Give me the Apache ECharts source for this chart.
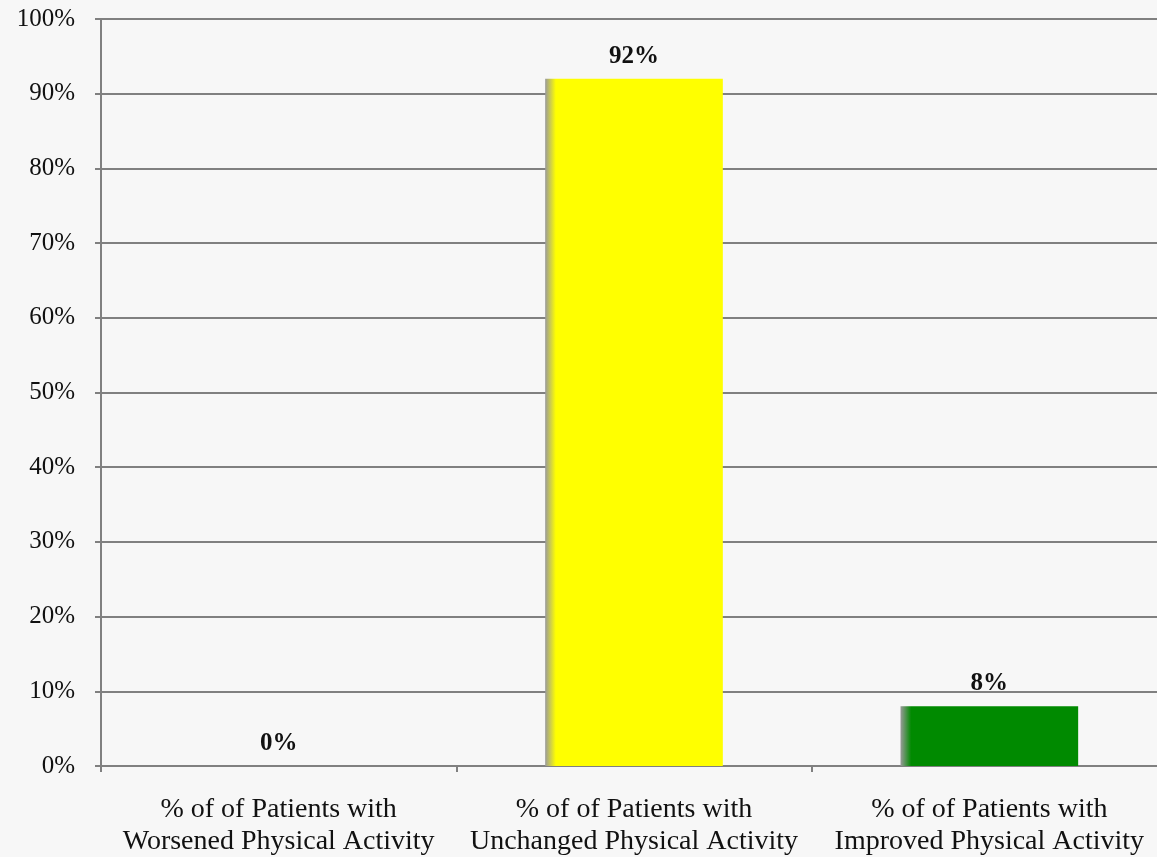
<!DOCTYPE html>
<html>
<head>
<meta charset="utf-8">
<script src="https://cdn.jsdelivr.net/npm/echarts@6/dist/echarts.min.js"></script>
<style>
  html, body { margin: 0; padding: 0; background: #f7f7f7; }
  #chart { width: 1157px; height: 857px; }
</style>
</head>
<body>
<div id="chart"></div>
<script>
let categories = [
    "% of of Patients with\nWorsened Physical Activity",
    "% of of Patients with\nUnchanged Physical Activity",
    "% of of Patients with\nImproved Physical Activity"
  ],
  values = [0, 92, 8],
  barColors = ["#ffff00", "#ffff00", "#008a00"],
  yTicks = [0, 10, 20, 30, 40, 50, 60, 70, 80, 90, 100];

let font = "'Liberation Serif', 'DejaVu Serif', serif";

function shade(color) {
  return new echarts.graphic.LinearGradient(0, 0, 1, 0, [
    { offset: 0, color: "#9a9a9a" },
    { offset: 0.06, color: color },
    { offset: 1, color: color }
  ]);
}

let chart = echarts.init(document.getElementById("chart"), null, { renderer: "canvas" });
chart.setOption({
  backgroundColor: "#f7f7f7",
  animation: false,
  // plot area runs a bit past the right edge of the picture
  grid: { left: 101, width: 1066, top: 19, height: 747, outerBoundsMode: "none", containLabel: false },
  xAxis: {
    type: "category",
    data: categories,
    axisLine: { lineStyle: { color: "#808080", width: 2 } },
    axisTick: { show: true, length: 6, lineStyle: { color: "#808080", width: 2 } },
    axisLabel: {
      color: "#111",
      fontFamily: font,
      fontSize: 28,
      lineHeight: 32,
      margin: 28,
      interval: 0
    }
  },
  yAxis: {
    type: "value",
    min: yTicks[0],
    max: yTicks[yTicks.length - 1],
    interval: 10,
    axisLine: { show: true, lineStyle: { color: "#808080", width: 2 } },
    axisTick: { show: true, length: 6, lineStyle: { color: "#808080", width: 2 } },
    splitLine: { lineStyle: { color: "#808080", width: 2 } },
    axisLabel: {
      color: "#111",
      fontFamily: font,
      fontSize: 25,
      margin: 26,
      formatter: v => v + "%"
    }
  },
  series: [{
    type: "bar",
    barWidth: "50%",
    data: values.map((v, i) => ({ value: v, itemStyle: { color: shade(barColors[i]) } })),
    label: {
      show: true,
      position: "top",
      distance: 10,
      color: "#111",
      fontFamily: font,
      fontWeight: "bold",
      fontSize: 25,
      formatter: p => p.value + "%"
    }
  }]
});
</script>
</body>
</html>
